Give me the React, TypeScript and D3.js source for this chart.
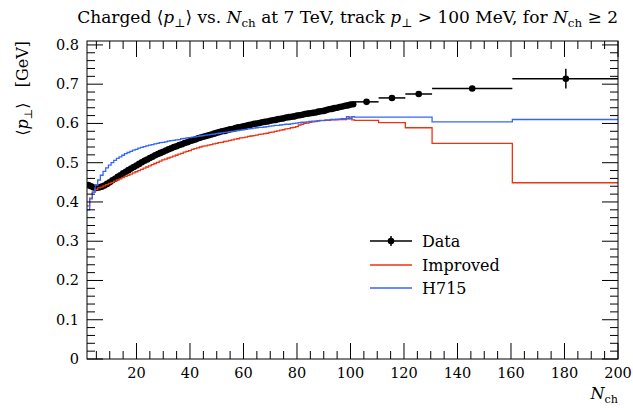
import React from "react";
import * as d3 from "d3";

// bin centres of the fine-binned region (one bin per multiplicity)
const nchFine = [
  2, 3, 4, 5, 6, 7, 8, 9, 10, 11, 12, 13, 14, 15, 16, 17, 18, 19, 20, 21,
  22, 23, 24, 25, 26, 27, 28, 29, 30, 31, 32, 33, 34, 35, 36, 37, 38, 39, 40, 41,
  42, 43, 44, 45, 46, 47, 48, 49, 50, 51, 52, 53, 54, 55, 56, 57, 58, 59, 60, 61,
  62, 63, 64, 65, 66, 67, 68, 69, 70, 71, 72, 73, 74, 75, 76, 77, 78, 79, 80, 81,
  82, 83, 84, 85, 86, 87, 88, 89, 90, 91, 92, 93, 94, 95, 96, 97, 98, 99, 100, 101,
];

const dataFine = [
  0.443, 0.440, 0.437, 0.436, 0.437, 0.439, 0.442, 0.446, 0.450, 0.455,
  0.459, 0.464, 0.468, 0.473, 0.477, 0.481, 0.485, 0.489, 0.493, 0.497,
  0.501, 0.505, 0.508, 0.512, 0.515, 0.519, 0.522, 0.525, 0.528, 0.531,
  0.534, 0.537, 0.540, 0.542, 0.545, 0.547, 0.550, 0.552, 0.555, 0.557,
  0.559, 0.562, 0.564, 0.566, 0.568, 0.570, 0.572, 0.574, 0.576, 0.578,
  0.580, 0.581, 0.583, 0.585, 0.586, 0.588, 0.590, 0.591, 0.593, 0.594,
  0.596, 0.597, 0.599, 0.600, 0.601, 0.603, 0.604, 0.605, 0.607, 0.608,
  0.609, 0.611, 0.612, 0.613, 0.615, 0.616, 0.617, 0.618, 0.620, 0.621,
  0.622, 0.624, 0.625, 0.626, 0.627, 0.628, 0.630, 0.631, 0.632, 0.634,
  0.636, 0.637, 0.639, 0.640, 0.642, 0.643, 0.645, 0.646, 0.648, 0.649,
];

const improvedFine = [
  0.390, 0.410, 0.425, 0.432, 0.436, 0.438, 0.441, 0.444, 0.447, 0.450,
  0.453, 0.456, 0.459, 0.462, 0.465, 0.468, 0.471, 0.474, 0.477, 0.480,
  0.483, 0.486, 0.489, 0.492, 0.495, 0.498, 0.501, 0.504, 0.507, 0.509,
  0.512, 0.514, 0.517, 0.519, 0.522, 0.524, 0.527, 0.529, 0.531, 0.534,
  0.536, 0.538, 0.540, 0.542, 0.543, 0.545, 0.546, 0.548, 0.549, 0.551,
  0.552, 0.554, 0.555, 0.557, 0.558, 0.560, 0.561, 0.563, 0.564, 0.565,
  0.567, 0.568, 0.569, 0.570, 0.572, 0.573, 0.574, 0.575, 0.577, 0.578,
  0.580, 0.581, 0.583, 0.584, 0.586, 0.587, 0.589, 0.590, 0.592, 0.596,
  0.598, 0.600, 0.601, 0.603, 0.604, 0.605, 0.606, 0.607, 0.607, 0.608,
  0.608, 0.609, 0.609, 0.609, 0.610, 0.610, 0.610, 0.612, 0.616, 0.609,
];

const h715Fine = [
  0.380, 0.408, 0.425, 0.443, 0.456, 0.468, 0.478, 0.487, 0.494, 0.500,
  0.506, 0.511, 0.515, 0.519, 0.523, 0.526, 0.529, 0.532, 0.534, 0.537,
  0.539, 0.541, 0.543, 0.545, 0.546, 0.548, 0.549, 0.551, 0.552, 0.553,
  0.555, 0.556, 0.557, 0.558, 0.559, 0.561, 0.562, 0.563, 0.564, 0.565,
  0.566, 0.567, 0.568, 0.569, 0.570, 0.571, 0.572, 0.573, 0.574, 0.575,
  0.576, 0.577, 0.578, 0.579, 0.580, 0.581, 0.582, 0.583, 0.584, 0.585,
  0.586, 0.587, 0.588, 0.589, 0.590, 0.590, 0.591, 0.592, 0.593, 0.594,
  0.595, 0.595, 0.596, 0.597, 0.598, 0.598, 0.599, 0.600, 0.601, 0.602,
  0.603, 0.603, 0.604, 0.605, 0.606, 0.606, 0.607, 0.608, 0.608, 0.609,
  0.609, 0.610, 0.610, 0.611, 0.611, 0.612, 0.612, 0.617, 0.612, 0.617,
];

// wide bins at high multiplicity
const wideLow = [101.5, 110.5, 120.5, 130.5, 160.5];
const wideHigh = [110.5, 120.5, 130.5, 160.5, 200.5];
const wideCentre = [106, 115.5, 125.5, 145.5, 180.5];
const dataWide = [0.655, 0.665, 0.675, 0.689, 0.714];
const dataWideErr = [0.004, 0.005, 0.005, 0.006, 0.025];
const improvedWide = [0.608, 0.602, 0.589, 0.549, 0.449];
const h715Wide = [0.616, 0.616, 0.616, 0.604, 0.610];

const xMajor = [20, 40, 60, 80, 100, 120, 140, 160, 180, 200];
const yMajor = [0, 0.1, 0.2, 0.3, 0.4, 0.5, 0.6, 0.7, 0.8];

const W = 633;
const H = 408;
const L = 87, R = 618, T = 41, B = 359;
const FONT = "'DejaVu Serif', 'Liberation Serif', serif";
const RED = "#ee3311";
const BLUE = "#3366ff";

const x = d3.scaleLinear().domain([1.5, 200]).range([L, R]);
const y = d3.scaleLinear().domain([0, 0.81]).range([B, T]);

type Bin = { lo: number; hi: number; v: number };

function bins(fine: number[], wide: number[]): Bin[] {
  const out: Bin[] = nchFine.map((n, i) => ({ lo: n - 0.5, hi: n + 0.5, v: fine[i] }));
  wide.forEach((v, i) => out.push({ lo: wideLow[i], hi: wideHigh[i], v }));
  return out;
}

function histPath(b: Bin[]) {
  const pts: [number, number][] = b.map((d) => [d.lo, d.v]);
  pts.push([b[b.length - 1].hi, b[b.length - 1].v]);
  return d3.line<[number, number]>()
    .x((d) => x(d[0]))
    .y((d) => y(d[1]))
    .curve(d3.curveStepAfter)(pts) || "";
}

// rich text: [text, style] with style "i" italic, "s" subscript, "" normal
type Seg = [string, string];
function Rich({ segs, size }: { segs: Seg[]; size: number }) {
  let shifted = false;
  return (
    <>
      {segs.map(([s, st], i) => {
        let dy = 0;
        if (st === "s" && !shifted) { dy = 4; shifted = true; }
        else if (st !== "s" && shifted) { dy = -4; shifted = false; }
        return (
          <tspan key={i} dy={dy || undefined}
            fontStyle={st === "i" ? "italic" : undefined}
            fontSize={st === "s" ? size * 0.7 : undefined}>{s}</tspan>
        );
      })}
    </>
  );
}

const titleSegs: Seg[] = [
  ["Charged ⟨", ""], ["p", "i"], ["⊥", "s"], ["⟩ vs. ", ""], ["N", "i"], ["ch", "s"],
  [" at 7 TeV, track ", ""], ["p", "i"], ["⊥", "s"], [" > 100 MeV, for ", ""],
  ["N", "i"], ["ch", "s"], [" ≥ 2", ""],
];

export default function App() {
  const xMinor = d3.range(5, 200, 5).filter((v) => v % 20 !== 0);
  const yMinor = d3.range(0, 81, 2).filter((v) => v % 10 !== 0).map((v) => v / 100);
  const dataPts = nchFine.map((n, i) => ({ c: n, lo: n - 0.5, hi: n + 0.5, v: dataFine[i], e: 0.002 }))
    .concat(dataWide.map((v, i) => ({ c: wideCentre[i], lo: wideLow[i], hi: wideHigh[i], v, e: dataWideErr[i] })));

  return (
    <svg width={W} height={H} style={{ position: "absolute", left: 0, top: 0, background: "#fff" }}
      fontFamily={FONT}>
      <defs>
        <clipPath id="plot">
          <rect x={L} y={T} width={R - L} height={B - T} />
        </clipPath>
      </defs>

      {/* title */}
      <text x={R} y={23} textAnchor="end" fontSize={17}>
        <Rich segs={titleSegs} size={17} />
      </text>

      <g clipPath="url(#plot)">
        {/* data */}
        {dataPts.map((d, i) => (
          <g key={i}>
            <line x1={x(d.lo)} x2={x(d.hi)} y1={y(d.v)} y2={y(d.v)} stroke="#000" strokeWidth={1.5} />
            <line x1={x(d.c)} x2={x(d.c)} y1={y(d.v - d.e)} y2={y(d.v + d.e)} stroke="#000" strokeWidth={1.5} />
            <circle cx={x(d.c)} cy={y(d.v)} r={3.3} fill="#000" />
          </g>
        ))}
        <path d={histPath(bins(improvedFine, improvedWide))} fill="none" stroke={RED} strokeWidth={1.3} />
        <path d={histPath(bins(h715Fine, h715Wide))} fill="none" stroke={BLUE} strokeWidth={1.3} />
      </g>

      {/* frame */}
      <rect x={L} y={T} width={R - L} height={B - T} fill="none" stroke="#000" strokeWidth={1} />

      {/* x ticks (bottom and top, inside) */}
      {xMajor.map((v) => (
        <g key={"xM" + v}>
          <line x1={x(v)} x2={x(v)} y1={B} y2={B - 16} stroke="#000" />
          <line x1={x(v)} x2={x(v)} y1={T} y2={T + 16} stroke="#000" />
          <text x={x(v)} y={378} textAnchor="middle" fontSize={14.5}>{v}</text>
        </g>
      ))}
      {xMinor.map((v) => (
        <g key={"xm" + v}>
          <line x1={x(v)} x2={x(v)} y1={B} y2={B - 8} stroke="#000" />
          <line x1={x(v)} x2={x(v)} y1={T} y2={T + 8} stroke="#000" />
        </g>
      ))}

      {/* y ticks (left and right, inside) */}
      {yMajor.map((v) => (
        <g key={"yM" + v}>
          <line x1={L} x2={L + 16} y1={y(v)} y2={y(v)} stroke="#000" />
          <line x1={R} x2={R - 16} y1={y(v)} y2={y(v)} stroke="#000" />
          <text x={79} y={y(v) + 5} textAnchor="end" fontSize={14.5}>{v === 0 ? "0" : d3.format(".1f")(v)}</text>
        </g>
      ))}
      {yMinor.map((v) => (
        <g key={"ym" + v}>
          <line x1={L} x2={L + 8} y1={y(v)} y2={y(v)} stroke="#000" />
          <line x1={R} x2={R - 8} y1={y(v)} y2={y(v)} stroke="#000" />
        </g>
      ))}

      {/* axis labels */}
      <text x={R} y={399} textAnchor="end" fontSize={16}>
        <Rich segs={[["N", "i"], ["ch", "s"]]} size={16} />
      </text>
      <text transform={`translate(28, ${T}) rotate(-90)`} textAnchor="end" fontSize={16}>
        <Rich segs={[["⟨", ""], ["p", "i"], ["⊥", "s"], ["⟩\u00a0\u00a0\u00a0[GeV]", ""]]} size={16} />
      </text>

      {/* legend */}
      <g>
        <line x1={370} x2={412} y1={241} y2={241} stroke="#000" strokeWidth={1.5} />
        <line x1={391} x2={391} y1={236} y2={246} stroke="#000" strokeWidth={1.5} />
        <circle cx={391} cy={241} r={3.3} fill="#000" />
        <text x={422} y={247} fontSize={16}>Data</text>
        <line x1={370} x2={412} y1={265} y2={265} stroke={RED} strokeWidth={1.3} />
        <text x={422} y={271} fontSize={16}>Improved</text>
        <line x1={370} x2={412} y1={288} y2={288} stroke={BLUE} strokeWidth={1.3} />
        <text x={422} y={294} fontSize={16}>H715</text>
      </g>
    </svg>
  );
}
